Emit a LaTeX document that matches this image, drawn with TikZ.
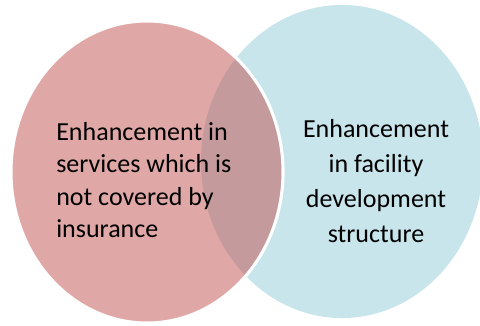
\documentclass[tikz,border=0pt]{standalone}
\usepackage{fontspec}
\setmainfont{Carlito}
\usetikzlibrary{shapes.geometric,positioning}
\definecolor{SvcRed}{HTML}{C0504D}
\definecolor{FacBlue}{HTML}{C9E5EC}

\begin{document}
\begin{tikzpicture}[
    x=0.025cm, y=0.025cm,
    set/.style={ellipse, inner sep=0pt},
    label/.style={font=\fontsize{18.5}{23}\selectfont, inner sep=0pt}
  ]
    \useasboundingbox (0,0) rectangle (480,325);
    % right set first, the left one is laid over it
    \node[set, fill=FacBlue, minimum width=7.05cm, minimum height=7.825cm] (fac) at (342,163.5) {};
    \node[set, fill=SvcRed, fill opacity=0.5, draw=white, line width=2.2pt,
          minimum width=6.8cm, minimum height=7.55cm] (svc) at (147,153) {};
    \node[label, align=left, anchor=west] (svctext) at (56,145)
      {Enhancement in\\services which is\\not covered by\\insurance};
    \node[label, align=center, font=\fontsize{18.5}{25}\selectfont] (factext) at (376,144)
      {Enhancement\\in facility\\development\\structure};
\end{tikzpicture}
\end{document}
